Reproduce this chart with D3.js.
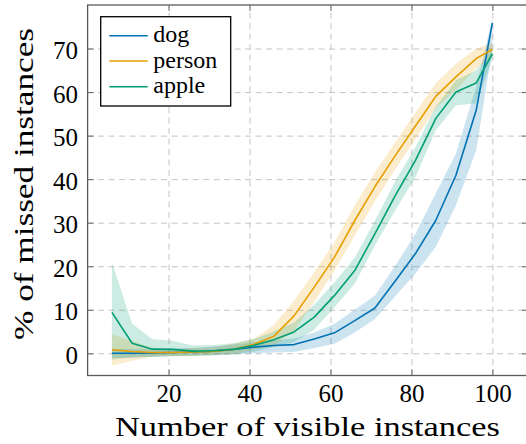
<!DOCTYPE html>
<html>
<head>
<meta charset="utf-8">
<script src="https://cdn.jsdelivr.net/npm/d3@7"></script>
</head>
<body style="margin:0">
<svg id="chart" width="526" height="444"></svg>
<script>
// ---- data ----
const xValues = [6, 11, 16, 21, 26, 31, 36, 41, 46, 51, 56, 61, 66, 71, 76, 81, 86, 91, 96, 100];

const dogMean  = [0.0, 0.0, 0.1, 0.2, 0.3, 0.5, 0.9, 1.4, 1.8, 2.0, 3.3, 4.7, 7.5, 10.4, 16.6, 22.9, 30.5, 40.9, 55.8, 75.9];
const dogLow   = [-1.0, -1.0, -0.8, -0.6, -0.5, -0.4, -0.2, 0.0, 0.2, 0.3, 1.2, 2.2, 4.8, 7.9, 13.1, 18.3, 24.4, 34.0, 46.6, 70.0];
const dogHigh  = [1.0, 1.0, 1.0, 1.1, 1.2, 1.5, 2.0, 2.5, 3.0, 3.4, 4.8, 6.8, 10.0, 13.3, 20.1, 27.5, 36.7, 45.9, 61.2, 77.0];

const personMean = [0.8, 0.4, 0.2, 0.2, 0.3, 0.4, 0.9, 2.0, 3.9, 8.6, 15.2, 22.1, 30.5, 38.3, 45.4, 52.2, 59.0, 63.5, 67.7, 69.8];
const personLow  = [-2.8, -1.7, -0.8, -0.7, -0.6, -0.4, -0.2, 0.8, 1.8, 5.2, 11.8, 19.0, 27.0, 35.0, 42.3, 49.2, 56.2, 60.5, 65.4, 68.3];
const personHigh = [4.3, 2.9, 1.2, 1.0, 1.2, 1.4, 2.2, 3.3, 6.5, 12.1, 18.6, 25.5, 34.0, 41.6, 48.5, 55.3, 62.0, 66.5, 70.0, 71.3];

const appleMean = [9.4, 2.3, 0.95, 0.9, 0.5, 0.6, 0.9, 1.8, 3.1, 4.9, 8.3, 13.3, 19.0, 27.5, 36.2, 44.3, 53.9, 60.0, 62.1, 68.8];
const appleLow  = [-1.5, -0.9, -0.8, -0.7, -0.6, -0.5, -0.3, 0.3, 1.5, 2.6, 5.4, 10.6, 16.0, 24.8, 32.8, 40.5, 51.2, 57.0, 57.4, 67.4];
const appleHigh = [20.9, 6.8, 3.2, 2.9, 1.8, 1.9, 2.3, 3.3, 5.0, 7.1, 11.2, 16.3, 22.0, 30.5, 39.5, 47.4, 56.6, 62.7, 65.0, 70.0];

const seriesNames = ["dog", "person", "apple"];
const seriesColors = ["#0072B2", "#E69F00", "#009E73"];

const xTicks = [20, 40, 60, 80, 100];
const yTicks = [0, 10, 20, 30, 40, 50, 60, 70];
const xTitle = "Number of visible instances";
const yTitle = "% of missed instances";

// ---- layout ----
const L = 87.6, R = 528, T = 5, B = 375.5;
const svg = d3.select("#chart");

const x = d3.scaleLinear().domain([0, 108.8]).range([L, R]);
const y = d3.scaleLinear().domain([-5.1, 80]).range([B, T]);

const series = [
  { name: seriesNames[0], color: seriesColors[0], mean: dogMean, low: dogLow, high: dogHigh },
  { name: seriesNames[1], color: seriesColors[1], mean: personMean, low: personLow, high: personHigh },
  { name: seriesNames[2], color: seriesColors[2], mean: appleMean, low: appleLow, high: appleHigh }
];

function serif(sel, size) {
  return sel.style("font-family", '"Liberation Serif"').style("font-size", size + "px").attr("fill", "#000");
}

// grid
const gridX = svg.append("g").attr("transform", `translate(0,${B})`)
  .call(d3.axisBottom(x).tickValues(xTicks).tickSize(-(B - T)).tickFormat(""));
const gridY = svg.append("g").attr("transform", `translate(${L},0)`)
  .call(d3.axisLeft(y).tickValues(yTicks).tickSize(-(R - L)).tickFormat(""));
[gridX, gridY].forEach(g => {
  g.select(".domain").remove();
  g.selectAll(".tick line").attr("stroke", "#c4c4c4").attr("stroke-width", 1)
    .attr("stroke-dasharray", "6,4.5");
});

// confidence bands, then mean lines
const plot = svg.append("g");
series.forEach(s => {
  const pts = xValues.map((xv, i) => ({ x: xv, lo: s.low[i], hi: s.high[i] }));
  plot.append("path").datum(pts)
    .attr("fill", s.color).attr("fill-opacity", 0.2).attr("stroke", "none")
    .attr("d", d3.area().x(d => x(d.x)).y0(d => y(d.lo)).y1(d => y(d.hi)));
});
series.forEach(s => {
  const pts = xValues.map((xv, i) => ({ x: xv, v: s.mean[i] }));
  plot.append("path").datum(pts)
    .attr("fill", "none").attr("stroke", s.color).attr("stroke-width", 1.6).attr("stroke-linejoin", "round")
    .attr("d", d3.line().x(d => x(d.x)).y(d => y(d.v)));
});

// frame
svg.append("rect").attr("x", L).attr("y", T).attr("width", R - L).attr("height", B - T)
  .attr("fill", "none").attr("stroke", "#5a5a5a").attr("stroke-width", 1.3);

// ticks + labels
const tickColor = "#707070";
const axB = svg.append("g").attr("transform", `translate(0,${B})`)
  .call(d3.axisBottom(x).tickValues(xTicks).tickSize(-6).tickFormat(d3.format("d")));
const axT = svg.append("g").attr("transform", `translate(0,${T})`)
  .call(d3.axisTop(x).tickValues(xTicks).tickSize(-6).tickFormat(""));
const axL = svg.append("g").attr("transform", `translate(${L},0)`)
  .call(d3.axisLeft(y).tickValues(yTicks).tickSize(-6).tickFormat(d3.format("d")));
const axR = svg.append("g").attr("transform", `translate(${R},0)`)
  .call(d3.axisRight(y).tickValues(yTicks).tickSize(-6).tickFormat(""));
[axB, axT, axL, axR].forEach(g => {
  g.select(".domain").remove();
  g.selectAll(".tick line").attr("stroke", tickColor).attr("stroke-width", 1.1);
});
serif(axB.selectAll(".tick text").attr("y", 26.5).attr("dy", 0), 25);
serif(axL.selectAll(".tick text").attr("x", -9.5).attr("dy", 0).attr("y", 10), 25);

// axis titles (stretched to the reference's wider serif face)
serif(svg.append("text").attr("x", 307.5).attr("y", 436).attr("text-anchor", "middle")
  .attr("textLength", 385).attr("lengthAdjust", "spacingAndGlyphs").text(xTitle), 27);
serif(svg.append("text").attr("transform", "translate(33,184) rotate(-90)").attr("text-anchor", "middle")
  .attr("textLength", 312).attr("lengthAdjust", "spacingAndGlyphs").text(yTitle), 27);

// legend
const lg = svg.append("g");
lg.append("rect").attr("x", 100.7).attr("y", 16.7).attr("width", 130).attr("height", 89.3)
  .attr("fill", "#fff").attr("stroke", "#000").attr("stroke-width", 1.3);
const rowY = [35.7, 61, 86.7];
series.forEach((s, i) => {
  lg.append("line").attr("x1", 109.3).attr("x2", 147.7).attr("y1", rowY[i]).attr("y2", rowY[i])
    .attr("stroke", s.color).attr("stroke-width", 1.6);
  serif(lg.append("text").attr("x", 153.3).attr("y", rowY[i] + 6.5).text(s.name), 24);
});
</script>
</body>
</html>
